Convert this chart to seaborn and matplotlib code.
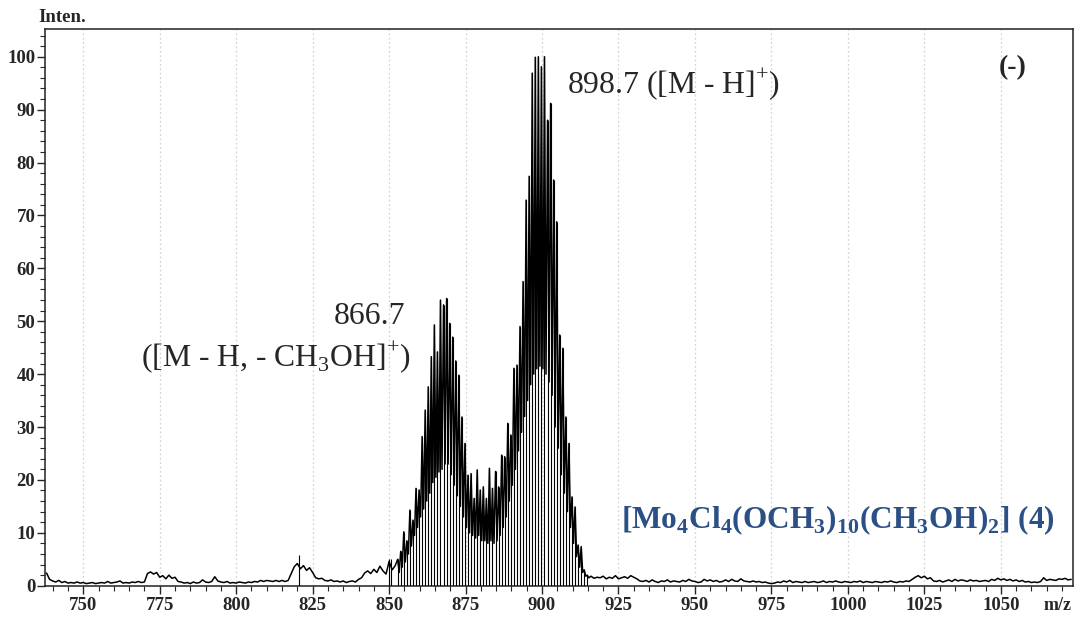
import matplotlib
matplotlib.use("Agg")
import matplotlib.pyplot as plt
from matplotlib.ticker import MultipleLocator
import seaborn as sns
import pandas as pd
import numpy as np

# baseline noise, 1 m/z steps, 738 .. 852
base_left = [2.4, 1.2, 0.9, 0.7, 1.0, 0.6, 0.8, 0.5, 0.6, 0.5, 0.7, 0.5, 0.6, 0.4, 0.5, 0.6, 0.4, 0.5,
             0.6, 0.5, 0.8, 0.5, 0.6, 0.7, 0.9, 0.5, 0.6, 0.5, 0.7, 0.6, 0.8, 0.6, 0.7, 2.3, 2.6, 2.2,
             2.5, 1.6, 1.9, 1.3, 2.0, 1.4, 1.6, 0.8, 0.7, 0.5, 0.6, 0.4, 0.7, 0.5, 0.6, 1.1, 0.7, 0.6,
             0.8, 1.7, 0.9, 0.7, 0.6, 0.8, 0.5, 0.6, 0.5, 0.7, 0.6, 0.5, 0.7, 0.6, 0.8, 0.7, 1.0, 0.8,
             1.0, 0.9, 0.8, 1.0, 0.8, 1.0, 0.8, 1.0, 2.3, 3.6, 4.2, 3.2, 3.8, 2.9, 3.4, 2.5, 1.5, 1.3,
             1.4, 1.0, 0.9, 1.1, 0.8, 0.9, 0.7, 0.9, 0.6, 0.8, 0.9, 0.7, 1.2, 1.5, 2.4, 2.8, 2.3, 3.1,
             2.5, 3.7, 2.8, 2.2, 4.6, 3.0, 3.8]
# baseline noise, 1 m/z steps, 916 .. 1073
base_right = [1.8, 1.4, 1.6, 1.5, 1.8, 1.3, 1.6, 1.4, 1.9, 1.3, 1.5, 1.7, 1.4, 1.9, 1.6, 1.3, 0.9,
              0.8, 1.0, 0.7, 1.1, 0.8, 0.6, 0.9, 0.8, 1.1, 0.7, 0.9, 0.8, 0.7, 1.0, 0.8, 1.2, 0.9,
              0.8, 0.6, 0.7, 1.2, 0.9, 1.1, 0.8, 1.0, 0.7, 0.8, 1.1, 0.8, 1.2, 0.9, 0.8, 1.3, 0.9,
              0.8, 0.7, 0.9, 0.7, 0.8, 0.6, 0.7, 0.5, 0.4, 0.5, 0.7, 0.6, 0.9, 0.7, 1.0, 0.6, 0.8,
              0.7, 0.6, 0.8, 0.6, 0.7, 0.8, 0.6, 0.7, 0.9, 0.6, 0.8, 0.7, 0.9, 0.7, 0.6, 0.8, 0.7,
              0.6, 0.8, 0.7, 0.9, 0.6, 0.8, 0.7, 0.6, 0.8, 0.7, 0.6, 0.8, 0.7, 0.9, 0.7, 0.6, 0.8,
              0.7, 0.9, 0.8, 1.2, 1.6, 1.9, 1.5, 1.8, 1.3, 1.5, 0.9, 0.8, 1.0, 0.7, 0.9, 1.1, 0.8,
              1.2, 0.9, 1.1, 1.0, 0.8, 1.1, 0.9, 1.0, 0.8, 0.9, 1.0, 0.8, 1.2, 1.0, 1.4, 1.1, 1.3,
              1.0, 1.2, 0.9, 1.1, 0.8, 1.0, 0.7, 0.8, 0.6, 0.7, 0.6, 0.8, 1.5, 1.0, 1.2, 1.1, 1.0,
              1.3, 1.2, 1.4, 1.1, 1.2]

# isotope cluster, one peak per m/z starting at 852.8
peak_top = [5.0, 6.5, 10.2, 8.5, 14.3, 12.4, 18.4, 18.1, 28.2, 33.2, 37.6, 43.3, 49.3, 44.2,
            54.0, 53.1, 54.3, 49.6, 47.0, 42.5, 39.8, 31.9, 26.9, 20.9, 21.2, 16.5, 21.9, 18.1,
            18.7, 16.5, 22.2, 18.4, 21.6, 18.7, 24.7, 24.4, 30.7, 28.5, 41.1, 41.7, 49.0, 57.5,
            72.9, 77.4, 96.9, 99.9, 100.0, 98.1, 100.0, 88.0, 91.2, 76.7, 68.8, 47.4, 44.9, 31.9,
            26.9, 16.8, 14.9, 7.7, 7.4, 3.0, 2.0]
# lower envelope between neighbouring peaks
peak_valley = [2.5, 3.5, 4.5, 6.0, 7.5, 9.5, 11.0, 13.0, 14.5, 16.0, 17.5, 19.5, 20.5, 21.5,
               22.0, 23.0, 23.0, 21.0, 19.0, 17.0, 15.0, 13.0, 11.0, 10.0, 9.5, 9.0, 9.5, 8.5,
               8.5, 8.0, 8.5, 8.0, 8.5, 9.5, 11.0, 13.0, 16.0, 19.0, 22.0, 25.5, 29.0, 32.0,
               35.0, 38.0, 40.0, 41.0, 41.5, 41.0, 40.0, 38.5, 36.0, 30.0, 26.0, 21.0, 17.5, 14.0,
               11.0, 8.0, 5.5, 3.5, 2.5, 1.8, 1.5]

# isolated sticks in the noise
stick_mz = [820.6, 850.0, 850.6]
stick_int = [5.8, 5.0, 5.0]

mz_left = 738 + np.arange(len(base_left))
mz_right = 916 + np.arange(len(base_right))
mz_peak = 852.8 + np.arange(len(peak_top))

spec = pd.concat([
    pd.DataFrame({"mz": mz_left, "inten": base_left}),
    pd.DataFrame({"mz": mz_peak, "inten": peak_top}),
    pd.DataFrame({"mz": mz_peak + 0.5, "inten": peak_valley}),
    pd.DataFrame({"mz": mz_right, "inten": base_right}),
]).sort_values("mz")

sns.set_style("ticks")
plt.rcParams["font.family"] = ["Liberation Serif", "DejaVu Serif"]
plt.rcParams["mathtext.fontset"] = "custom"
plt.rcParams["mathtext.rm"] = "Liberation Serif"
plt.rcParams["mathtext.bf"] = "Liberation Serif:bold"

fig = plt.figure(figsize=(10.82, 6.17), dpi=100)
ax = fig.add_axes([0.0416, 0.0507, 0.9498, 0.9028])

sns.lineplot(data=spec, x="mz", y="inten", color="black", linewidth=1.1,
             estimator=None, sort=True, ax=ax, zorder=3)
ax.vlines(list(mz_peak) + stick_mz, 0, list(peak_top) + stick_int,
          color="black", linewidth=0.8, zorder=3)

ax.set_xlim(737.5, 1073.5)
ax.set_ylim(0, 105.3)
ax.xaxis.set_major_locator(MultipleLocator(25))
ax.xaxis.set_minor_locator(MultipleLocator(5))
ax.yaxis.set_major_locator(MultipleLocator(10))
ax.yaxis.set_minor_locator(MultipleLocator(2))
ax.tick_params(which="major", direction="out", length=6, width=1, labelsize=13.5, pad=2)
ax.tick_params(which="minor", direction="out", length=3.5, width=0.8)
ax.tick_params(axis="y", pad=1)
for lbl in ax.get_xticklabels() + ax.get_yticklabels():
    lbl.set_fontweight("bold")
ax.set_xlabel("")
ax.set_ylabel("")
ax.grid(False)
for gx in range(750, 1051, 25):
    ax.axvline(gx, color="#d4d4d4", linestyle=(0, (1.5, 2)), linewidth=0.9, zorder=1)
for sp in ax.spines.values():
    sp.set_visible(True)
    sp.set_linewidth(1.1)
    sp.set_color("#222222")

ax.text(908.2, 94.8, r"898.7 ([M - H]$^{+}$)", fontsize=22.8, va="center", ha="left")
ax.text(855.3, 50.8, "866.7", fontsize=22.8, va="center", ha="right")
ax.text(857.0, 43.2, r"([M - H, - CH$_{3}$OH]$^{+}$)", fontsize=22.8, va="center", ha="right")
ax.text(1054.0, 97.9, "(-)", fontsize=20, fontweight="bold", va="center", ha="center")
ax.text(996.8, 12.4,
        r"[Mo$_\mathbf{4}$Cl$_\mathbf{4}$(OCH$_\mathbf{3}$)$_\mathbf{10}$(CH$_\mathbf{3}$OH)$_\mathbf{2}$] (4)",
        fontsize=22.5, fontweight="bold", color="#2b5085", va="center", ha="center")

fig.text(0.035, 0.971, "Inten.", fontsize=13.5, fontweight="bold", va="center", ha="left")
fig.text(0.977, 0.019, "m/z", fontsize=13, fontweight="bold", va="center", ha="center")

fig.savefig("out.png", dpi=100)
